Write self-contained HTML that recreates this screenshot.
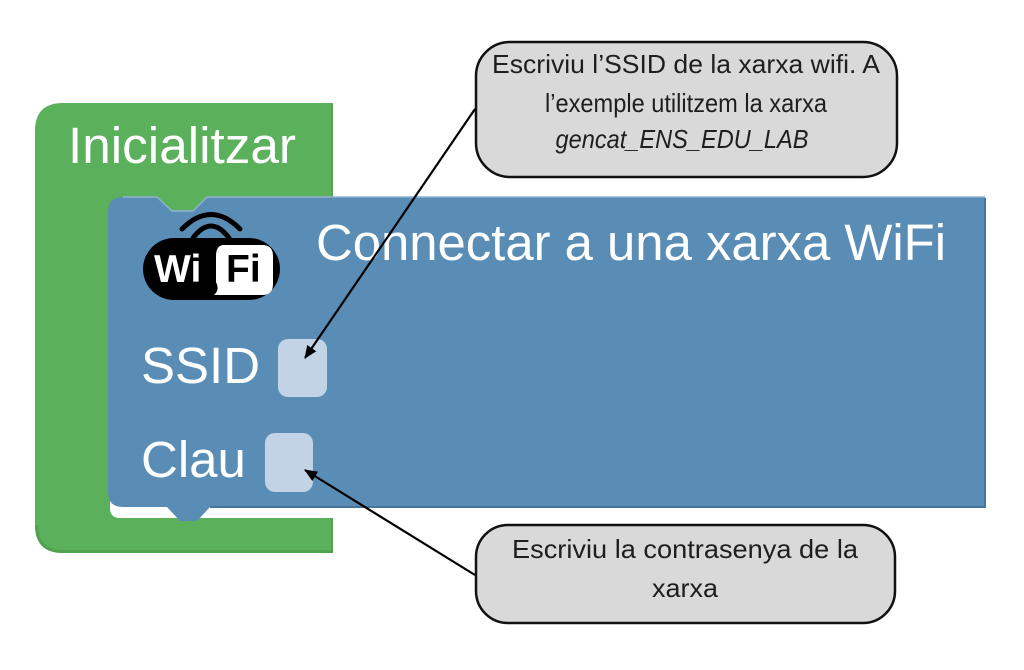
<!DOCTYPE html>
<html>
<head>
<meta charset="utf-8">
<style>
  html,body{margin:0;padding:0;background:#ffffff;}
  body{width:1024px;height:670px;overflow:hidden;}
  svg{display:block;}
  .bk{font-family:"Liberation Sans",Arial,sans-serif;fill:#ffffff;font-size:51px;}
  .co{font-family:"Liberation Sans",Arial,sans-serif;fill:#1e1e1e;font-size:26px;}
</style>
</head>
<body>
<svg width="1024" height="670" viewBox="0 0 1024 670" xmlns="http://www.w3.org/2000/svg">
  <defs>
    <marker id="ah" viewBox="0 0 13 11" refX="12" refY="5.5" markerWidth="13" markerHeight="11" markerUnits="userSpaceOnUse" orient="auto">
      <path d="M0,0 L13,5.5 L0,11 Z" fill="#000"/>
    </marker>
  </defs>

  <!-- Green C block -->
  <path d="M63,103 L333,103 L333,215 L110,215 L110,508 Q110,518 120,518 L333,518 L333,553 L63,553 Q35,553 35,525 L35,131 Q35,103 63,103 Z" fill="#5bb05b"/>
  <path d="M35,525 Q35,553 63,553 L333,553 L333,550 L63,550 Q38,550 38,525 Z" fill="#4a9a4a" opacity="0.6"/>
  <rect x="331" y="103" width="2" height="94" fill="#4a9a4a" opacity="0.5"/>
  <rect x="331" y="518" width="2" height="35" fill="#4a9a4a" opacity="0.5"/>

  <!-- Blue block -->
  <path d="M108,212 Q108,197 123,197 L157,197 L172,211 L193,211 L207,197 L985,197 L985,507 L210,507 L197,521 L180,521 L167,507 L123,507 Q108,507 108,492 Z" fill="#5a8db5"/>
  <path d="M123,197 L157,197 L172,211 L193,211 L207,197 L985,197" fill="none" stroke="#8fb2cf" stroke-width="1.5"/>
  <path d="M985,198 L985,507 L210,507" fill="none" stroke="#46769a" stroke-width="2"/>

  <!-- Block texts -->
  <text class="bk" x="68" y="163" textLength="228" lengthAdjust="spacingAndGlyphs">Inicialitzar</text>
  <text class="bk" x="316" y="260" textLength="630" lengthAdjust="spacingAndGlyphs">Connectar a una xarxa WiFi</text>
  <text class="bk" x="141" y="383">SSID</text>
  <text class="bk" x="141" y="477">Clau</text>

  <!-- Inputs -->
  <rect x="278" y="339" width="49" height="58" rx="10" fill="#c1d3e4"/>
  <rect x="265" y="433" width="48" height="59" rx="10" fill="#c1d3e4"/>

  <!-- WiFi logo -->
  <path d="M182,229 Q211,200 240,229" fill="none" stroke="#000" stroke-width="5" stroke-linecap="round"/>
  <path d="M193,238 Q211,214 229,238" fill="none" stroke="#000" stroke-width="5" stroke-linecap="round"/>
  <rect x="143" y="238" width="137" height="62" rx="31" fill="#000"/>
  <path d="M224,245 L262,245 Q273,245 273,256 L273,284 Q273,295 262,295 L214,295 Q220,290 216,282 L216,256 Q216,245 224,245 Z" fill="#fff"/>
  <text x="154" y="282" font-family="Liberation Sans,Arial,sans-serif" font-weight="bold" font-size="39" fill="#fff">Wi</text>
  <text x="226" y="282" font-family="Liberation Sans,Arial,sans-serif" font-weight="bold" font-size="39" fill="#000">Fi</text>

  <!-- Callout top -->
  <rect x="476" y="42" width="421" height="135" rx="34" fill="#d9d9d9" stroke="#111" stroke-width="2.5"/>
  <text class="co" x="686" y="73" text-anchor="middle" textLength="388" lengthAdjust="spacingAndGlyphs">Escriviu l’SSID de la xarxa wifi. A</text>
  <text class="co" x="686" y="112" text-anchor="middle" textLength="282" lengthAdjust="spacingAndGlyphs">l’exemple utilitzem la xarxa</text>
  <text class="co" x="682" y="148" text-anchor="middle" font-style="italic" textLength="253" lengthAdjust="spacingAndGlyphs">gencat_ENS_EDU_LAB</text>

  <!-- Callout bottom -->
  <rect x="476" y="525" width="419" height="98" rx="32" fill="#d9d9d9" stroke="#111" stroke-width="2.5"/>
  <text class="co" x="685" y="558" text-anchor="middle" textLength="346" lengthAdjust="spacingAndGlyphs">Escriviu la contrasenya de la</text>
  <text class="co" x="685" y="597" text-anchor="middle" textLength="66" lengthAdjust="spacingAndGlyphs">xarxa</text>

  <!-- Arrows -->
  <line x1="475" y1="109" x2="305" y2="358" stroke="#000" stroke-width="2.2" marker-end="url(#ah)"/>
  <line x1="475" y1="575" x2="305" y2="470" stroke="#000" stroke-width="2.2" marker-end="url(#ah)"/>
</svg>
</body>
</html>
